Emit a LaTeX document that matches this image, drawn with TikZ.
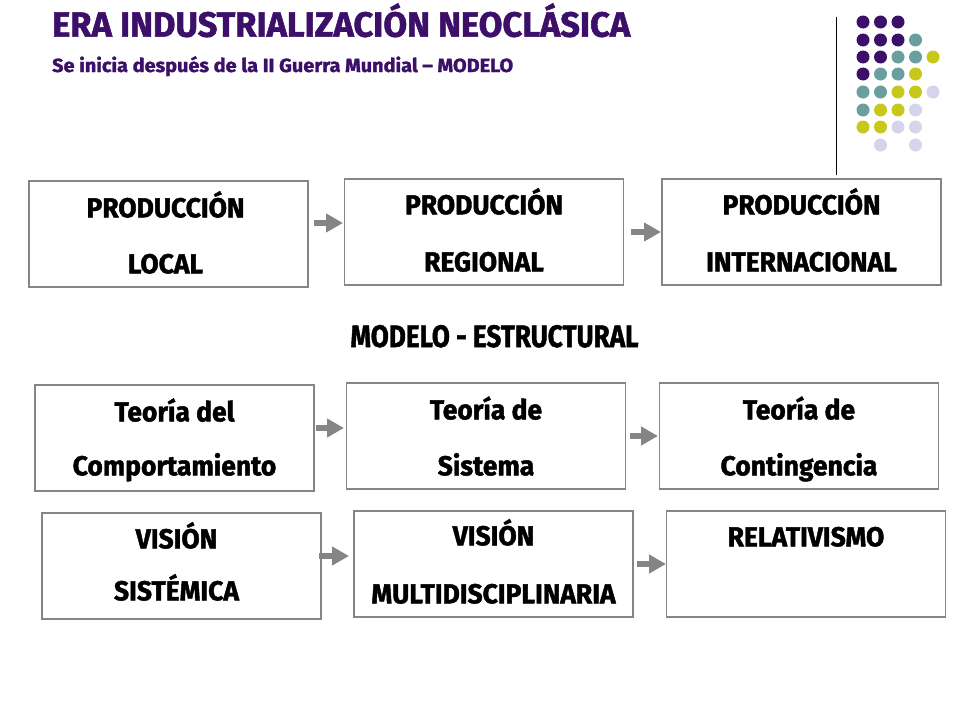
\documentclass[tikz,border=0pt]{standalone}
\usepackage{fontspec}
\setmainfont{Fira Sans}
\newfontfamily\heavy{Fira Sans Bold}[FakeBold=1.6]
\usetikzlibrary{arrows.meta,calc}
\definecolor{ttl}{HTML}{3C0F68}
\definecolor{dpurp}{HTML}{3C0F68}
\definecolor{dteal}{HTML}{6A9E9F}
\definecolor{dyel}{HTML}{C8C81C}
\definecolor{dlav}{HTML}{D4D4EA}
\definecolor{bgray}{HTML}{858585}
\newsavebox\fitbox
\newcommand\fitx[2]{\sbox\fitbox{#2}\pgfmathsetmacro\fxf{#1/\wd\fitbox}\scalebox{\fxf}[1]{\usebox\fitbox}}
\newcommand\boxfont{\heavy\fontsize{27.5}{30}\selectfont}
\newcommand\bx[1]{\scalebox{\boxsx}[1]{#1}}
\begin{document}
\sbox\fitbox{\boxfont PRODUCCIÓN}\pgfmathsetmacro\boxsx{158/\wd\fitbox}%
\begin{tikzpicture}[x=1pt,y=-1pt,
  box/.style={draw=bgray, line width=1.3pt, minimum width=279pt, minimum height=106pt, inner sep=0pt},
  lbl/.style={anchor=base, inner sep=0pt, font=\boxfont},
  blockarrow/.style={draw=bgray, line width=6pt, -{Triangle[length=17pt, width=18pt]}}]
\useasboundingbox (0,0) rectangle (960,720);
\fill[white] (0,0) rectangle (960,720);
% titles
\node[anchor=base west, inner sep=0pt, text=ttl, font=\heavy\fontsize{35}{38}\selectfont] (title) at (52,36.7) {\fitx{578}{ERA INDUSTRIALIZACIÓN NEOCLÁSICA}};
\node[anchor=base west, inner sep=0pt, text=ttl, font=\heavy\fontsize{19}{22}\selectfont] (subtitle) at (52,72) {\fitx{461}{Se inicia después de la II Guerra Mundial – MODELO}};
% decoration
\coordinate (vl1) at (836,17);
\coordinate (vl2) at (836,175);
\draw[line width=1pt] (vl1) -- (vl2);
\foreach \y/\row in {22/{1/dpurp,2/dpurp,3/dpurp},
                     40/{1/dpurp,2/dpurp,3/dpurp,4/dteal},
                     57/{1/dpurp,2/dpurp,3/dteal,4/dteal,5/dyel},
                     74/{1/dpurp,2/dteal,3/dteal,4/dyel},
                     92/{1/dteal,2/dteal,3/dyel,4/dyel,5/dlav},
                     110/{1/dteal,2/dyel,3/dyel,4/dlav},
                     127/{1/dyel,2/dyel,3/dlav,4/dlav},
                     145/{2/dlav,4/dlav}}{
  \foreach \c/\col in \row {
    \fill[\col] ({845.5+17.5*\c},\y) circle (6.5pt);
  }
}
% boxes
\node[box] (b1) at (168.5,234) {};
\node[box] (b2) at (484,232) {};
\node[box] (b3) at (801.5,232) {};
\node[box] (b4) at (174.5,438) {};
\node[box] (b5) at (486,436) {};
\node[box] (b6) at (799,436) {};
\node[box] (b7) at (181.5,566) {};
\node[box] (b8) at (493.5,564) {};
\node[box] (b9) at (806,564) {};
% labels
\node[lbl] (l1a) at ($(b1.north)+(-3,37)$) {\bx{PRODUCCIÓN}};
\node[lbl] (l1b) at ($(b1.north)+(-3,93)$) {\bx{LOCAL}};
\node[lbl] (l2a) at ($(b2.north)+(0,36)$) {\bx{PRODUCCIÓN}};
\node[lbl] (l2b) at ($(b2.north)+(0,93)$) {\bx{REGIONAL}};
\node[lbl] (l3a) at ($(b3.north)+(0,36)$) {\bx{PRODUCCIÓN}};
\node[lbl] (l3b) at ($(b3.north)+(0,93)$) {\bx{INTERNACIONAL}};
\node[lbl] (l4a) at ($(b4.north)+(0,37)$) {\bx{Teoría del}};
\node[lbl] (l4b) at ($(b4.north)+(0,91)$) {\bx{Comportamiento}};
\node[lbl] (l5a) at ($(b5.north)+(0,37)$) {\bx{Teoría de}};
\node[lbl] (l5b) at ($(b5.north)+(0,93)$) {\bx{Sistema}};
\node[lbl] (l6a) at ($(b6.north)+(0,37)$) {\bx{Teoría de}};
\node[lbl] (l6b) at ($(b6.north)+(0,93)$) {\bx{Contingencia}};
\node[lbl] (l7a) at ($(b7.north)+(-5,36)$) {\bx{VISIÓN}};
\node[lbl] (l7b) at ($(b7.north)+(-5,88)$) {\bx{SISTÉMICA}};
\node[lbl] (l8a) at ($(b8.north)+(0,35)$) {\bx{VISIÓN}};
\node[lbl] (l8b) at ($(b8.north)+(0,93)$) {\bx{MULTIDISCIPLINARIA}};
\node[lbl] (l9a) at ($(b9.north)+(0,36)$) {\bx{RELATIVISMO}};
% middle heading
\node[anchor=base, inner sep=0pt, font=\heavy\fontsize{31}{34}\selectfont] (mid) at (494.5,347) {\fitx{288}{MODELO - ESTRUCTURAL}};
% arrows
\coordinate (a1s) at (314,223); \coordinate (a1e) at (343,223);
\coordinate (a2s) at (631,232); \coordinate (a2e) at (661,232);
\coordinate (a3s) at (316,428); \coordinate (a3e) at (344,428);
\coordinate (a4s) at (630,436); \coordinate (a4e) at (658,436);
\coordinate (a5s) at (319,556); \coordinate (a5e) at (349,556);
\coordinate (a6s) at (637,564); \coordinate (a6e) at (666,564);
\foreach \i in {1,...,6} {\draw[blockarrow] (a\i s) -- (a\i e);}
\end{tikzpicture}
\end{document}
